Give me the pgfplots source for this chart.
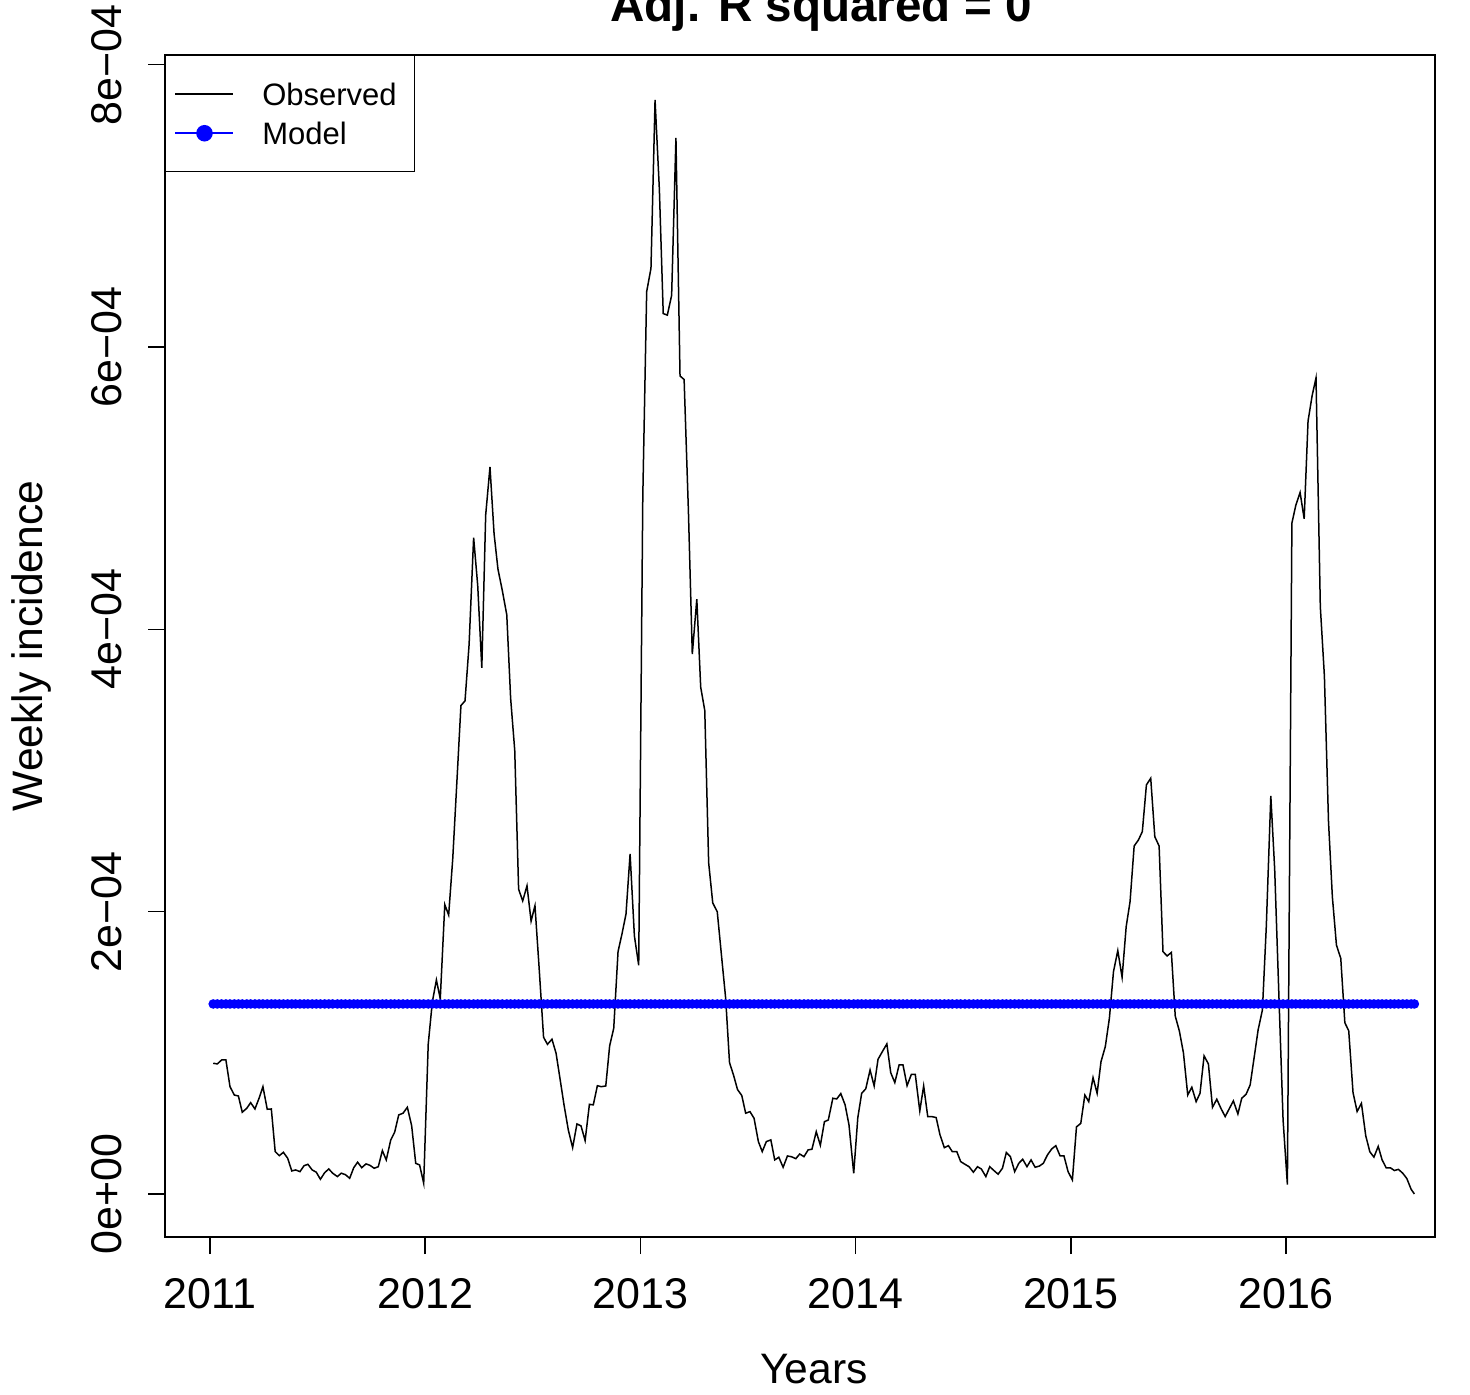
\documentclass[border=0pt]{standalone}
\usepackage{fontspec}
\setmainfont{Liberation Sans}
\usepackage{pgfplots}
\pgfplotsset{compat=1.18}
\usepackage{pgfplotstable}

% x = year, v = observed weekly incidence (units of 1e-4), m = model (units of 1e-4)
\pgfplotstableread{
x v m
2011.015 0.926 1.346
2011.034 0.921 1.346
2011.054 0.949 1.346
2011.074 0.949 1.346
2011.093 0.760 1.346
2011.113 0.701 1.346
2011.132 0.694 1.346
2011.150 0.579 1.346
2011.171 0.607 1.346
2011.189 0.647 1.346
2011.209 0.602 1.346
2011.228 0.678 1.346
2011.246 0.760 1.346
2011.266 0.600 1.346
2011.285 0.602 1.346
2011.303 0.300 1.346
2011.322 0.271 1.346
2011.341 0.295 1.346
2011.361 0.253 1.346
2011.380 0.163 1.346
2011.398 0.170 1.346
2011.418 0.158 1.346
2011.437 0.200 1.346
2011.455 0.210 1.346
2011.475 0.170 1.346
2011.494 0.154 1.346
2011.513 0.104 1.346
2011.533 0.151 1.346
2011.552 0.177 1.346
2011.570 0.147 1.346
2011.592 0.123 1.346
2011.610 0.147 1.346
2011.629 0.137 1.346
2011.649 0.111 1.346
2011.668 0.186 1.346
2011.686 0.225 1.346
2011.705 0.186 1.346
2011.725 0.213 1.346
2011.743 0.203 1.346
2011.763 0.182 1.346
2011.782 0.193 1.346
2011.801 0.307 1.346
2011.819 0.241 1.346
2011.840 0.383 1.346
2011.858 0.437 1.346
2011.877 0.560 1.346
2011.897 0.572 1.346
2011.917 0.614 1.346
2011.937 0.484 1.346
2011.956 0.217 1.346
2011.974 0.205 1.346
2011.993 0.076 1.346
2012.014 1.060 1.346
2012.033 1.359 1.346
2012.052 1.516 1.346
2012.070 1.382 1.346
2012.091 2.050 1.346
2012.109 1.976 1.346
2012.128 2.376 1.346
2012.148 2.943 1.346
2012.166 3.460 1.346
2012.185 3.493 1.346
2012.204 3.894 1.346
2012.225 4.650 1.346
2012.244 4.310 1.346
2012.263 3.727 1.346
2012.281 4.810 1.346
2012.301 5.150 1.346
2012.320 4.677 1.346
2012.338 4.427 1.346
2012.358 4.277 1.346
2012.379 4.103 1.346
2012.397 3.510 1.346
2012.416 3.143 1.346
2012.434 2.159 1.346
2012.453 2.076 1.346
2012.473 2.183 1.346
2012.492 1.933 1.346
2012.510 2.042 1.346
2012.529 1.609 1.346
2012.550 1.110 1.346
2012.568 1.060 1.346
2012.589 1.096 1.346
2012.608 0.997 1.346
2012.626 0.820 1.346
2012.645 0.631 1.346
2012.665 0.453 1.346
2012.685 0.328 1.346
2012.705 0.496 1.346
2012.724 0.482 1.346
2012.743 0.378 1.346
2012.763 0.635 1.346
2012.781 0.631 1.346
2012.800 0.767 1.346
2012.818 0.760 1.346
2012.839 0.765 1.346
2012.857 1.049 1.346
2012.876 1.174 1.346
2012.896 1.717 1.346
2012.915 1.847 1.346
2012.933 1.984 1.346
2012.952 2.409 1.346
2012.972 1.828 1.346
2012.992 1.620 1.346
2013.011 4.940 1.346
2013.029 6.392 1.346
2013.049 6.558 1.346
2013.068 7.750 1.346
2013.088 7.118 1.346
2013.106 6.237 1.346
2013.125 6.226 1.346
2013.145 6.366 1.346
2013.165 7.481 1.346
2013.184 5.795 1.346
2013.203 5.770 1.346
2013.223 4.836 1.346
2013.241 3.825 1.346
2013.262 4.214 1.346
2013.280 3.591 1.346
2013.299 3.425 1.346
2013.317 2.347 1.346
2013.336 2.062 1.346
2013.357 1.999 1.346
2013.376 1.699 1.346
2013.396 1.387 1.346
2013.414 0.930 1.346
2013.433 0.840 1.346
2013.451 0.740 1.346
2013.471 0.697 1.346
2013.489 0.572 1.346
2013.509 0.583 1.346
2013.528 0.536 1.346
2013.548 0.371 1.346
2013.566 0.300 1.346
2013.585 0.371 1.346
2013.606 0.383 1.346
2013.624 0.241 1.346
2013.643 0.260 1.346
2013.663 0.189 1.346
2013.683 0.269 1.346
2013.701 0.264 1.346
2013.722 0.250 1.346
2013.740 0.283 1.346
2013.760 0.264 1.346
2013.779 0.312 1.346
2013.797 0.317 1.346
2013.817 0.441 1.346
2013.836 0.345 1.346
2013.855 0.512 1.346
2013.873 0.524 1.346
2013.894 0.678 1.346
2013.912 0.673 1.346
2013.931 0.711 1.346
2013.951 0.631 1.346
2013.969 0.490 1.346
2013.991 0.147 1.346
2014.010 0.540 1.346
2014.028 0.713 1.346
2014.047 0.745 1.346
2014.067 0.878 1.346
2014.086 0.765 1.346
2014.104 0.954 1.346
2014.124 1.008 1.346
2014.145 1.063 1.346
2014.163 0.859 1.346
2014.182 0.789 1.346
2014.202 0.914 1.346
2014.220 0.914 1.346
2014.239 0.767 1.346
2014.259 0.848 1.346
2014.277 0.848 1.346
2014.298 0.588 1.346
2014.316 0.765 1.346
2014.335 0.548 1.346
2014.354 0.548 1.346
2014.374 0.541 1.346
2014.392 0.418 1.346
2014.412 0.328 1.346
2014.431 0.342 1.346
2014.449 0.300 1.346
2014.470 0.300 1.346
2014.488 0.229 1.346
2014.508 0.210 1.346
2014.527 0.193 1.346
2014.547 0.154 1.346
2014.566 0.193 1.346
2014.584 0.177 1.346
2014.605 0.123 1.346
2014.623 0.193 1.346
2014.643 0.165 1.346
2014.662 0.140 1.346
2014.682 0.182 1.346
2014.700 0.293 1.346
2014.719 0.264 1.346
2014.739 0.158 1.346
2014.758 0.217 1.346
2014.776 0.246 1.346
2014.796 0.193 1.346
2014.815 0.241 1.346
2014.834 0.189 1.346
2014.854 0.198 1.346
2014.872 0.217 1.346
2014.891 0.276 1.346
2014.911 0.319 1.346
2014.930 0.342 1.346
2014.950 0.269 1.346
2014.968 0.269 1.346
2014.987 0.158 1.346
2015.007 0.099 1.346
2015.026 0.475 1.346
2015.046 0.500 1.346
2015.065 0.701 1.346
2015.083 0.654 1.346
2015.103 0.824 1.346
2015.122 0.713 1.346
2015.140 0.937 1.346
2015.160 1.044 1.346
2015.179 1.245 1.346
2015.198 1.575 1.346
2015.218 1.724 1.346
2015.238 1.535 1.346
2015.257 1.894 1.346
2015.275 2.071 1.346
2015.294 2.465 1.346
2015.314 2.508 1.346
2015.332 2.567 1.346
2015.351 2.898 1.346
2015.371 2.945 1.346
2015.390 2.531 1.346
2015.410 2.465 1.346
2015.428 1.717 1.346
2015.447 1.686 1.346
2015.467 1.711 1.346
2015.485 1.260 1.346
2015.504 1.155 1.346
2015.523 1.000 1.346
2015.543 0.701 1.346
2015.562 0.756 1.346
2015.582 0.654 1.346
2015.600 0.713 1.346
2015.619 0.978 1.346
2015.639 0.921 1.346
2015.658 0.614 1.346
2015.678 0.671 1.346
2015.697 0.607 1.346
2015.717 0.548 1.346
2015.737 0.607 1.346
2015.755 0.659 1.346
2015.776 0.567 1.346
2015.794 0.678 1.346
2015.814 0.706 1.346
2015.833 0.772 1.346
2015.851 0.961 1.346
2015.870 1.162 1.346
2015.890 1.304 1.346
2015.908 1.894 1.346
2015.929 2.820 1.346
2015.947 2.300 1.346
2015.967 1.386 1.346
2015.986 0.524 1.346
2016.006 0.067 1.346
2016.027 4.753 1.346
2016.045 4.878 1.346
2016.065 4.970 1.346
2016.084 4.783 1.346
2016.102 5.476 1.346
2016.121 5.656 1.346
2016.139 5.781 1.346
2016.159 4.162 1.346
2016.178 3.668 1.346
2016.197 2.640 1.346
2016.215 2.105 1.346
2016.234 1.762 1.346
2016.254 1.670 1.346
2016.273 1.213 1.346
2016.291 1.156 1.346
2016.311 0.718 1.346
2016.330 0.584 1.346
2016.350 0.642 1.346
2016.370 0.413 1.346
2016.389 0.299 1.346
2016.408 0.261 1.346
2016.428 0.337 1.346
2016.446 0.242 1.346
2016.465 0.185 1.346
2016.485 0.185 1.346
2016.503 0.166 1.346
2016.522 0.174 1.346
2016.542 0.147 1.346
2016.561 0.109 1.346
2016.581 0.033 1.346
2016.596 0.000 1.346
}\obs

\begin{document}
\begin{tikzpicture}
\begin{axis}[
  at={(0pt,0pt)}, anchor=south west,
  scale only axis, width=635pt, height=591pt,
  xmin=2010.791, xmax=2016.692,
  ymin=-0.305, ymax=8.069,
  clip=false,
  axis line style={line width=0.75pt},
  tick style={line width=0.75pt, black},
  tick align=outside, major tick length=8.5pt,
  tick pos=left,
  xtick={2011,2012,2013,2014,2015,2016},
  xticklabels={2011,2012,2013,2014,2015,2016},
  ytick={0,2,4,6,8},
  yticklabels={0e+00,2e−04,4e−04,6e−04,8e−04},
  /pgf/number format/assume math mode=true,
  ticklabel style={font=\fontsize{21.5}{25}\selectfont, inner sep=0pt},
  xticklabel style={anchor=north},
  xticklabel shift=12pt,
  yticklabel style={rotate=90, anchor=south},
  yticklabel shift=13pt,
  legend style={at={(0,1)}, anchor=north west, draw=black, line width=0.75pt,
    fill=white, font=\fontsize{15.5}{18}\selectfont,
    inner xsep=4.5pt, inner ysep=10pt, row sep=1pt,
    nodes={inner sep=0pt, text height=15pt, text depth=3.5pt},
    /tikz/every odd column/.style={column sep=14pt}},
  legend cell align=left,
]
\addplot[black, line width=0.75pt,
  legend image code/.code={\draw[black, line width=0.75pt] (0pt,0pt) -- (29pt,0pt);}]
  table[x=x, y=v] {\obs};
\addlegendentry{Observed\rule{4.5pt}{0pt}}
\addplot[blue, line width=0.75pt, mark=*, mark size=2pt, mark options={draw=blue, fill=blue},
  legend image code/.code={\draw[blue, line width=0.75pt] (0pt,0pt) -- (29pt,0pt);
    \fill[blue] (14.5pt,0pt) circle (3.75pt);}]
  table[x=x, y=m] {\obs};
\addlegendentry{Model}
\end{axis}
\node[anchor=base, inner sep=0pt, font=\bfseries\fontsize{23.8}{28}\selectfont] at (328pt,607.5pt) {Adj. R squared = 0};
\node[anchor=base, inner sep=0pt, font=\fontsize{21.3}{25}\selectfont] at (324.5pt,-73pt) {Years};
\node[anchor=base, rotate=90, inner sep=0pt, font=\fontsize{21.3}{25}\selectfont] at (-61pt,295.5pt) {Weekly incidence};
\pgfresetboundingbox
\path[use as bounding box] (-82.5pt,-79pt) rectangle (652.5pt,618.5pt);
\end{tikzpicture}
\end{document}
